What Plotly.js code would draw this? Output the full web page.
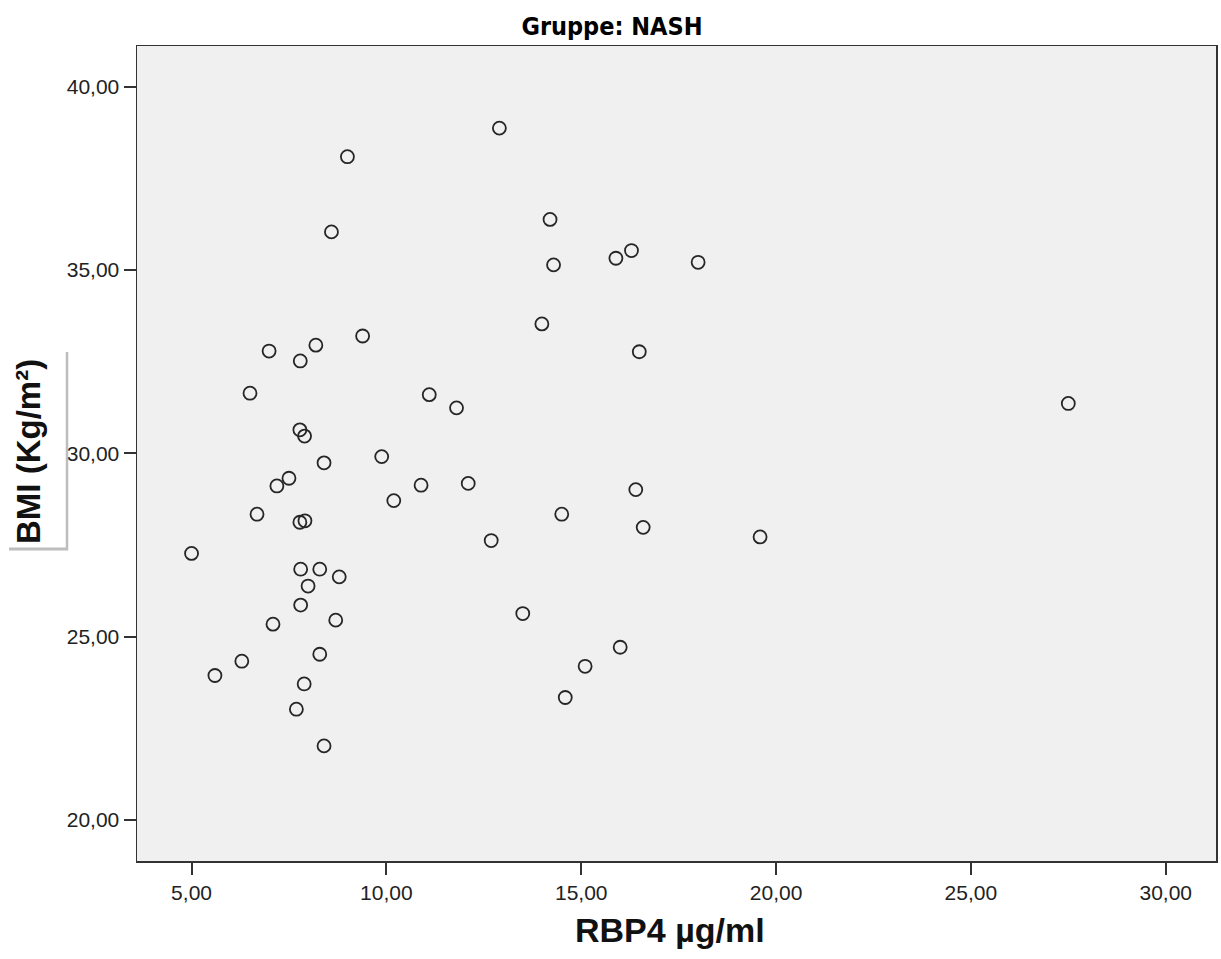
<!DOCTYPE html>
<html>
<head>
<meta charset="utf-8">
<script src="https://cdn.plot.ly/plotly-3.0.1.min.js"></script>
<style>html,body{margin:0;padding:0;background:#fff;}#chart{width:1221px;height:959px;}</style>
</head>
<body>
<div id="chart"></div>
<script>
// RBP4 (µg/ml) values
const rbp4 = [
  5.00, 5.60, 6.29, 6.50, 6.68, 6.99, 7.09, 7.19, 7.50, 7.79,
  7.78, 7.90, 7.78, 7.91, 7.80, 7.80, 7.99, 7.89, 7.69, 8.19,
  8.29, 8.29, 8.40, 8.40, 8.59, 8.79, 8.70, 9.00, 9.39, 9.88,
  10.19, 10.89, 11.10, 11.80, 12.10, 12.69, 12.90, 13.50, 13.99, 14.20,
  14.29, 14.50, 14.59, 15.10, 15.89, 16.00, 16.29, 16.40, 16.49, 16.59,
  18.00, 19.59, 27.50
];
// BMI (Kg/m²) values
const bmi = [
  27.27, 23.94, 24.33, 31.64, 28.34, 32.79, 25.34, 29.11, 29.32, 32.52,
  30.64, 30.47, 28.12, 28.16, 26.84, 25.86, 26.38, 23.71, 23.02, 32.95,
  26.84, 24.52, 29.74, 22.02, 36.04, 26.63, 25.45, 38.09, 33.20, 29.91,
  28.71, 29.13, 31.60, 31.24, 29.18, 27.62, 38.87, 25.63, 33.53, 36.38,
  35.14, 28.34, 23.34, 24.19, 35.32, 24.71, 35.53, 29.01, 32.77, 27.98,
  35.21, 27.72, 31.36
];
const xTickVals = [5, 10, 15, 20, 25, 30];
const xTickText = ["5,00", "10,00", "15,00", "20,00", "25,00", "30,00"];
const yTickVals = [20, 25, 30, 35, 40];
const yTickText = ["20,00", "25,00", "30,00", "35,00", "40,00"];
const chartTitle = "Gruppe: NASH";
const xTitle = "RBP4 µg/ml";
const yTitle = "BMI (Kg/m²)";

const W = 1221, H = 959;
const L = 137, R = 5, T = 46, B = 98;
const pw = W - L - R, ph = H - T - B;

const trace = {
  x: rbp4, y: bmi, type: 'scatter', mode: 'markers',
  marker: {symbol: 'circle', size: 13, color: 'rgba(0,0,0,0)', line: {color: '#262626', width: 1.8}},
  hoverinfo: 'x+y'
};

const axisCommon = {
  showgrid: false, zeroline: false, showline: true, mirror: true,
  linecolor: '#333333', linewidth: 1.5,
  ticks: 'outside', ticklen: 12, tickwidth: 2, tickcolor: '#333333',
  tickfont: {family: 'Liberation Sans, Arial, sans-serif', size: 21, color: '#222222'},
  tickmode: 'array'
};

const layout = {
  width: W, height: H,
  margin: {l: L, r: R, t: T, b: B},
  paper_bgcolor: '#ffffff', plot_bgcolor: '#f0f0f0',
  showlegend: false,
  title: {
    text: '<b>' + chartTitle + '</b>',
    font: {family: 'Liberation Sans Narrow, DejaVu Sans Condensed, Arial Narrow, sans-serif', size: 25, color: '#000'},
    x: 612 / W, xref: 'container', xanchor: 'center',
    y: 1 - 26 / H, yref: 'container', yanchor: 'middle'
  },
  xaxis: Object.assign({}, axisCommon, {
    range: [3.60, 31.29], tickvals: xTickVals, ticktext: xTickText
  }),
  yaxis: Object.assign({}, axisCommon, {
    range: [18.88, 41.11], tickvals: yTickVals, ticktext: yTickText
  }),
  annotations: [
    {
      text: '<b>' + xTitle + '</b>', showarrow: false,
      xref: 'paper', yref: 'paper',
      x: (670 - L) / pw, y: -(930 - (T + ph)) / ph,
      xanchor: 'center', yanchor: 'middle',
      font: {family: 'Liberation Sans, Arial, sans-serif', size: 34, color: '#111'}
    },
    {
      text: '<b>' + yTitle + '</b>', showarrow: false, textangle: -90,
      xref: 'paper', yref: 'paper',
      x: (28 - L) / pw, y: (T + ph - 452) / ph,
      xanchor: 'center', yanchor: 'middle',
      font: {family: 'Liberation Sans, Arial, sans-serif', size: 33, color: '#111'}
    }
  ],
  shapes: [
    {type: 'line', xref: 'paper', yref: 'paper',
     x0: (67 - L) / pw, x1: (67 - L) / pw, y0: (T + ph - 352) / ph, y1: (T + ph - 550) / ph,
     line: {color: '#bdbdbd', width: 2.5}},
    {type: 'line', xref: 'paper', yref: 'paper',
     x0: (9 - L) / pw, x1: (68 - L) / pw, y0: (T + ph - 549) / ph, y1: (T + ph - 549) / ph,
     line: {color: '#bdbdbd', width: 3}}
  ]
};

Plotly.newPlot('chart', [trace], layout, {displayModeBar: false, staticPlot: true});
</script>
</body>
</html>
